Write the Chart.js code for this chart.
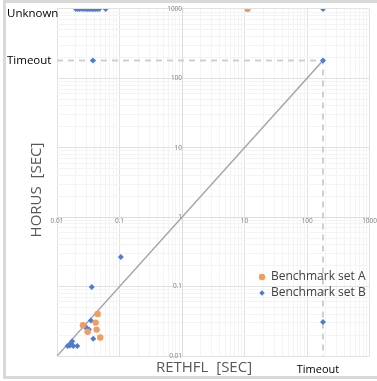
<!DOCTYPE html>
<html>
<head>
<meta charset="utf-8">
<script src="https://cdn.jsdelivr.net/npm/chart.js@4.4.1/dist/chart.umd.min.js"></script>
<style>
  html, body { margin: 0; padding: 0; background: #fff; }
</style>
</head>
<body>
<canvas id="myChart" width="377" height="381"></canvas>
<script>
// values (seconds, log-log)
var rethflA = [0.0447, 0.0415, 0.026, 0.043, 0.0309, 0.0492, 11.2];
var horusA  = [0.0404, 0.0303, 0.0277, 0.024, 0.0223, 0.0185, 1000];

var rethflB = [0.02, 0.0215, 0.023, 0.025, 0.027, 0.029, 0.031, 0.033, 0.035, 0.037, 0.039, 0.0415, 0.044, 0.0475, 0.06,
               0.0376, 180, 180, 180, 0.105, 0.036,
               0.0349, 0.028, 0.0305, 0.0324, 0.029, 0.0313, 0.038,
               0.0175, 0.0161, 0.0148, 0.0182, 0.0211, 0.0167];
var horusB  = [1000, 1000, 1000, 1000, 1000, 1000, 1000, 1000, 1000, 1000, 1000, 1000, 1000, 1000, 1000,
               180, 180, 1000, 0.031, 0.267, 0.099,
               0.0324, 0.0268, 0.0246, 0.024, 0.0258, 0.0233, 0.0177,
               0.0163, 0.0142, 0.0139, 0.0139, 0.0139, 0.0152];

var seriesNames = ["Benchmark set A", "Benchmark set B"];
var seriesColors = ["#F29C5E", "#4F7CD0"];
var tickValues = [0.01, 0.1, 1, 10, 100, 1000];
var timeout = 180;
var unknown = 1000;

function toPoints(xs, ys) {
    var pts = [];
    for (var i = 0; i < xs.length; i++) pts.push({x: xs[i], y: ys[i]});
    return pts;
}

function logTicks(scale) {
    var t = [];
    for (var i = 0; i < tickValues.length - 1; i++) {
        for (var k = 1; k < 10; k++) {
            t.push({value: tickValues[i] * k, major: k === 1});
        }
    }
    t.push({value: tickValues[tickValues.length - 1], major: true});
    scale.ticks = t;
}

function gridColor(c) {
    return (c.tick && c.tick.major) ? "#e2e2e2" : "#f4f4f4";
}

var tickFont = {family: "Open Sans", size: 6.5};

var annotate = {
    id: "annotate",
    beforeDraw: function(chart) {
        var ctx = chart.ctx;
        ctx.save();
        ctx.fillStyle = "#d9d9d9";
        ctx.fillRect(3, 0, 3, 379);
        ctx.fillRect(3, 0, 374, 3);
        ctx.fillRect(3, 376, 374, 3);
        ctx.restore();
    },
    afterDraw: function(chart) {
        var ctx = chart.ctx, xs = chart.scales.x, ys = chart.scales.y;
        ctx.save();
        ctx.fillStyle = "#000";
        ctx.font = "11.5px 'Open Sans'";
        ctx.textAlign = "left";
        ctx.textBaseline = "middle";
        ctx.fillText("Unknown", 7, ys.getPixelForValue(unknown) + 5);
        ctx.fillText("Timeout", 7, ys.getPixelForValue(timeout));
        ctx.textAlign = "center";
        ctx.font = "11px 'Open Sans'";
        ctx.fillText("Timeout", xs.getPixelForValue(timeout) - 5, 370);

        ctx.fillStyle = "#595959";
        ctx.font = "15px 'Open Sans'";
        ctx.fillText("RETHFL  [SEC]", 204, 368);
        ctx.translate(37, 190);
        ctx.rotate(-Math.PI / 2);
        ctx.fillText("HORUS  [SEC]", 0, 0);
        ctx.restore();

        // legend
        ctx.save();
        ctx.font = "12px 'Open Sans'";
        ctx.textAlign = "left";
        ctx.textBaseline = "middle";
        ctx.fillStyle = "#404040";
        ctx.fillText(seriesNames[0], 271, 277);
        ctx.fillText(seriesNames[1], 271, 293);
        ctx.fillStyle = seriesColors[0];
        ctx.beginPath();
        ctx.arc(262, 277, 3.2, 0, Math.PI * 2);
        ctx.fill();
        ctx.fillStyle = seriesColors[1];
        ctx.beginPath();
        ctx.moveTo(262, 290.3); ctx.lineTo(264.7, 293); ctx.lineTo(262, 295.7); ctx.lineTo(259.3, 293);
        ctx.closePath();
        ctx.fill();
        ctx.restore();
    }
};

new Chart("myChart", {
    type: "scatter",
    data: {
        datasets: [{
            label: seriesNames[0],
            data: toPoints(rethflA, horusA),
            backgroundColor: seriesColors[0],
            borderWidth: 0,
            pointRadius: 3.2,
            pointStyle: "circle"
        }, {
            label: seriesNames[1],
            data: toPoints(rethflB, horusB),
            backgroundColor: seriesColors[1],
            borderWidth: 0,
            pointRadius: 3,
            pointStyle: "rectRot"
        }, {
            label: "diagonal",
            type: "line",
            data: [{x: tickValues[0], y: tickValues[0]}, {x: timeout, y: timeout}],
            borderColor: "#a6a6a6",
            borderWidth: 1.5,
            pointRadius: 0
        }, {
            label: "timeout",
            type: "line",
            data: [{x: tickValues[0], y: timeout}, {x: timeout, y: timeout}, {x: timeout, y: tickValues[0]}],
            borderColor: "#d0d0d0",
            borderWidth: 2,
            borderDash: [6, 5],
            pointRadius: 0
        }]
    },
    options: {
        responsive: false,
        animation: false,
        layout: {padding: {left: 57, right: 2, top: 7, bottom: 25}},
        plugins: {legend: {display: false}, tooltip: {enabled: false}},
        scales: {
            x: {
                type: "logarithmic",
                min: 0.01, max: 1000,
                position: {y: 1},
                afterBuildTicks: logTicks,
                grid: {color: gridColor, drawTicks: false},
                border: {color: "#dcdcdc"},
                ticks: {
                    autoSkip: false, maxRotation: 0, padding: 0,
                    color: "#7f7f7f", font: tickFont,
                    callback: function(v) { return tickValues.indexOf(v) >= 0 ? String(v) : ""; }
                }
            },
            y: {
                type: "logarithmic",
                min: 0.01, max: 1000,
                position: {x: 1},
                afterBuildTicks: logTicks,
                grid: {color: gridColor, drawTicks: false},
                border: {color: "#dcdcdc"},
                ticks: {
                    autoSkip: false, padding: 5,
                    color: "#7f7f7f", font: tickFont,
                    callback: function(v) { return tickValues.indexOf(v) >= 0 ? String(v) : ""; }
                }
            }
        }
    },
    plugins: [annotate]
});
</script>
</body>
</html>
